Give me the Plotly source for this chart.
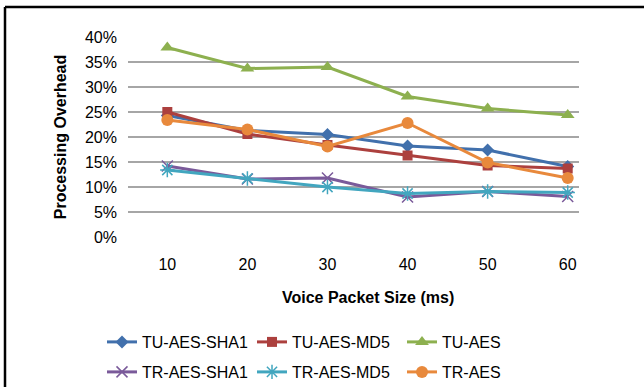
import plotly.graph_objects as go

packet_sizes = [10, 20, 30, 40, 50, 60]
tu_aes_sha1 = [24.3, 21.3, 20.5, 18.2, 17.4, 14.1]
tu_aes_md5 = [25.0, 20.6, 18.4, 16.3, 14.3, 13.7]
tu_aes = [37.9, 33.7, 34.0, 28.1, 25.7, 24.4]
tr_aes_sha1 = [14.2, 11.6, 11.8, 8.0, 9.1, 8.1]
tr_aes_md5 = [13.4, 11.7, 10.0, 8.7, 9.1, 8.9]
tr_aes = [23.4, 21.5, 18.1, 22.8, 14.9, 11.8]
y_ticks = [0, 5, 10, 15, 20, 25, 30, 35, 40]
y_labels = [f"{v}%" for v in y_ticks]

series = [
    ("TU-AES-SHA1", tu_aes_sha1, "#4170AC", dict(symbol="diamond", size=10), "legend"),
    ("TU-AES-MD5", tu_aes_md5, "#AC403E", dict(symbol="square", size=10), "legend"),
    ("TU-AES", tu_aes, "#8DB04F", dict(symbol="triangle-up", size=12), "legend"),
    ("TR-AES-SHA1", tr_aes_sha1, "#7A5A9A", dict(symbol="x-thin-open", size=11, line=dict(width=1.5, color="#A890C8")), "legend2"),
    ("TR-AES-MD5", tr_aes_md5, "#42A6BF", dict(symbol="asterisk-open", size=12, line=dict(width=1.5, color="#7CC4DA")), "legend2"),
    ("TR-AES", tr_aes, "#E8893C", dict(symbol="circle", size=12), "legend2"),
]

fig = go.Figure()
for name, vals, color, mk, lg in series:
    marker = dict(color=color, **mk)
    fig.add_trace(go.Scatter(x=packet_sizes, y=vals, name=name, mode="lines+markers",
                             line=dict(color=color, width=3), marker=marker, legend=lg))

font_family = "Liberation Sans, Arial, sans-serif"
W, H = 644, 387
L, R, T, B = 128, 65, 37, 150
pw, ph = W - L - R, H - T - B

legend_common = dict(orientation="h", x=(102 - L) / pw, xanchor="left", yanchor="middle",
                     entrywidth=105, entrywidthmode="pixels", font=dict(size=16),
                     bgcolor="rgba(0,0,0,0)", itemwidth=30)

fig.update_layout(
    width=W, height=H,
    margin=dict(l=L, r=R, t=T, b=B, pad=0, autoexpand=False),
    paper_bgcolor="white", plot_bgcolor="white",
    font=dict(family=font_family, size=16, color="black"),
    xaxis=dict(range=[5.09, 61.41], tickvals=packet_sizes, ticktext=[str(v) for v in packet_sizes],
               showgrid=False, zeroline=False, showline=False, ticks="", ticklabelstandoff=16,
               tickfont=dict(size=16)),
    yaxis=dict(range=[0, 40], tickvals=y_ticks, ticktext=y_labels, showgrid=True,
               gridcolor="#A6A6A6", gridwidth=1.5, zeroline=False, showline=False, ticks="",
               ticklabelstandoff=10, tickfont=dict(size=16),
               title=dict(text="<b>Processing Overhead</b>", font=dict(size=16), standoff=14)),
    legend=dict(y=(T + ph - 342) / ph, **legend_common),
    legend2=dict(y=(T + ph - 372) / ph, **legend_common),
    showlegend=True,
    annotations=[dict(text="<b>Voice Packet Size (ms)</b>", x=35, xref="x", y=(237 - 297) / ph,
                      yref="paper", showarrow=False, xanchor="center", yanchor="middle",
                      font=dict(size=16))],
    shapes=[
        dict(type="line", xref="paper", yref="paper", x0=(5 - L) / pw, x1=(644 - L) / pw,
             y0=1 + (T - 7) / ph, y1=1 + (T - 7) / ph, line=dict(color="black", width=2.5)),
        dict(type="line", xref="paper", yref="paper", x0=(5 - L) / pw, x1=(5 - L) / pw,
             y0=1 + (T - 7) / ph, y1=(T + ph - 390) / ph, line=dict(color="black", width=2.5)),
    ],
)

fig.write_html("out.html")
